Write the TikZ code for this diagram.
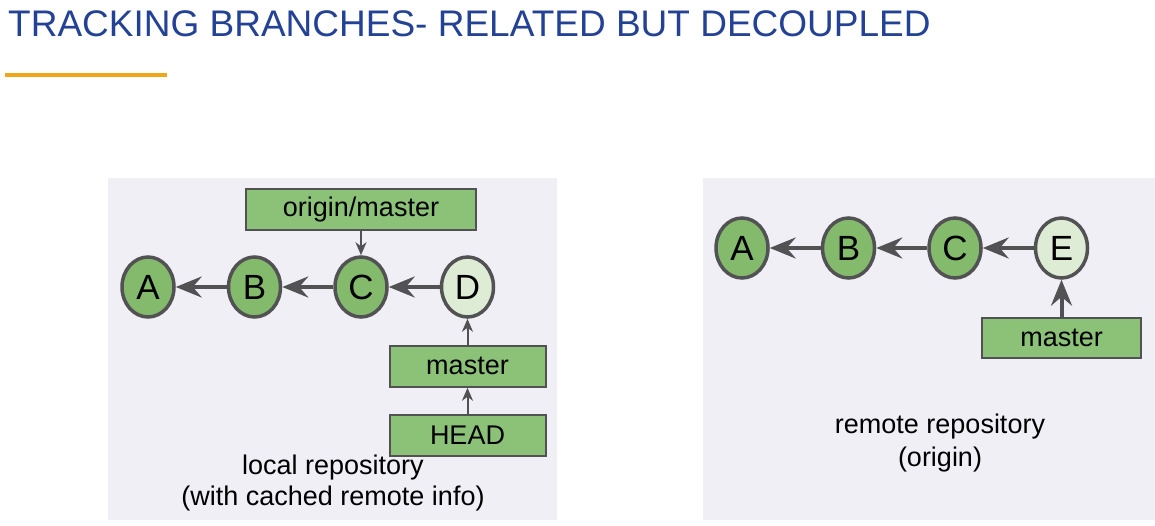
\documentclass[tikz,border=0pt]{standalone}
\usepackage{fontspec}
\setmainfont{Liberation Sans}
\usetikzlibrary{arrows.meta,positioning,shapes.geometric}
\definecolor{titleblue}{RGB}{35,66,150}
\definecolor{ruleorange}{RGB}{240,168,24}
\definecolor{panelbg}{RGB}{239,239,245}
\definecolor{commitgreen}{RGB}{132,186,108}
\definecolor{headgreen}{RGB}{222,236,214}
\definecolor{branchgreen}{RGB}{140,194,120}
\definecolor{edgegray}{RGB}{82,82,85}
\tikzset{
    %Define standard arrow tip
    >={Stealth[length=26pt,width=21pt,inset=9pt]},
    %Define style for commits
    commit/.style={
           ellipse,
           draw=edgegray, line width=3.5pt,
           fill=commitgreen,
           minimum width=52pt,
           minimum height=60pt,
           inner sep=0pt,
           font=\fontsize{35}{35}\selectfont,
           text centered},
    newcommit/.style={
           commit,
           fill=headgreen},
    %Define style for branch labels
    branch/.style={
           rectangle,
           draw=edgegray, line width=2pt,
           fill=branchgreen,
           minimum width=156pt,
           minimum height=41pt,
           inner sep=0pt,
           font=\fontsize{27}{30}\selectfont,
           text centered},
    repolabel/.style={
           align=center,
           font=\fontsize{27}{31}\selectfont},
    % Define arrow style
    pil/.style={
           ->,
           draw=edgegray,
           line width=4pt},
    thinpil/.style={
           -{Stealth[length=13pt,width=11pt,inset=4pt]},
           draw=edgegray,
           line width=2pt}
}

\begin{document}
\begin{tikzpicture}[x=1pt,y=-1pt,node distance=51pt]
\useasboundingbox (0,0) rectangle (1155,526);

 %title
\node[anchor=base west, inner sep=0pt, text=titleblue,
      font=\fontsize{37}{40}\selectfont] (title) at (8,37)
      {TRACKING BRANCHES- RELATED BUT DECOUPLED};
\draw[ruleorange, line width=3.5pt] (5,75) -- (167,75);

 %panels
\fill[panelbg] (108,178) rectangle (557,520);
\fill[panelbg] (703,178) rectangle (1155,520);

 %local repository
\node[commit] (la) at (148,287) {A};
\node[commit, right=of la] (lb) {B};
\node[commit, right=of lb] (lc) {C};
\node[newcommit, right=of lc] (ld) {D};
\node[branch, minimum width=230pt, above=24pt of lc] (lorigin) {origin/master};
\node[branch, below=26pt of ld] (lmaster) {master};
\node[branch, below=26pt of lmaster] (lhead) {HEAD};
\node[repolabel] (localcap) at (333,483)
     {local repository\\(with cached remote info)};

\path (lb) edge[pil] (la)
      (lc) edge[pil] (lb)
      (ld) edge[pil] (lc);
\path (lorigin) edge[thinpil] (lc)
      (lmaster) edge[thinpil] (ld)
      (lhead) edge[thinpil] (lmaster);

 %remote repository
\node[commit] (ra) at (742,248) {A};
\node[commit, right=of ra] (rb) {B};
\node[commit, right=of rb] (rc) {C};
\node[newcommit, right=of rc] (re) {E};
\node[branch, minimum width=159pt, minimum height=40pt, below=37pt of re] (rmaster) {master};
\node[repolabel, font=\fontsize{27}{33}\selectfont] (remotecap) at (940,443)
     {remote repository\\(origin)};

\path (rb) edge[pil] (ra)
      (rc) edge[pil] (rb)
      (re) edge[pil] (rc)
      (rmaster) edge[pil] (re);
\end{tikzpicture}
\end{document}
